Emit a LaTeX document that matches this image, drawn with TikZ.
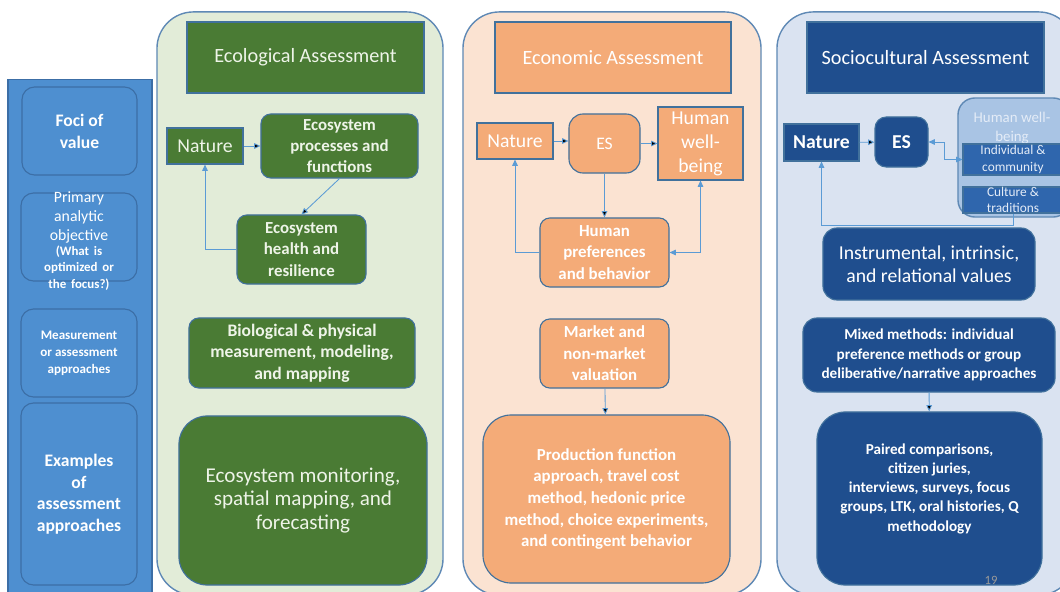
\documentclass[tikz,border=0pt]{standalone}
\usepackage{fontspec}
\setmainfont{Carlito}
\usetikzlibrary{arrows.meta}
\definecolor{azulizq}{HTML}{4E8FD0}
\definecolor{azulborde}{HTML}{3C6EA6}
\definecolor{borde}{HTML}{41719C}
\definecolor{marco}{HTML}{5F89B5}
\definecolor{verde}{HTML}{4A7B34}
\definecolor{verdeclaro}{HTML}{E2ECD8}
\definecolor{textoverde}{HTML}{EEF4E8}
\definecolor{naranja}{HTML}{F4AB78}
\definecolor{naranjaclaro}{HTML}{FBE3D2}
\definecolor{azuloscuro}{HTML}{1F4E8E}
\definecolor{azulclaro}{HTML}{DAE3F1}
\definecolor{azulmedio}{HTML}{2F66AD}
\definecolor{azulbien}{HTML}{A9C4E4}
\definecolor{textobien}{HTML}{E4ECF7}
\definecolor{azulflecha}{HTML}{5B9BD5}

\begin{document}
\begin{tikzpicture}[x=0.025cm,y=-0.025cm,>={Triangle[length=4.5pt,width=4pt]}]
\tikzset{caja/.style={draw=borde,line width=0.8pt,align=center,inner sep=1pt},
redon/.style={caja,rounded corners=7pt},
grande/.style={caja,rounded corners=20pt},
panel/.style={draw=marco,line width=1pt,rounded corners=26pt},
lcaja/.style={draw=azulborde,line width=0.8pt,rounded corners=9pt,text=white,align=center},
tit/.style={font=\fontsize{14.4}{17}\selectfont},
cuerpo/.style={font=\fontsize{12}{15.2}\selectfont\bfseries},
flecha/.style={draw=azulflecha,line width=0.6pt}}

\useasboundingbox (0,0) rectangle (1060,592);
\clip (0,0) rectangle (1060,592);

% Columna izquierda
\node (1) at (80,340) [draw=azulborde,fill=azulizq,line width=0.8pt,minimum width=3.6cm,minimum height=13cm] {};
\node (2) at (79.5,131) [lcaja,minimum width=2.875cm,minimum height=2.2cm,font=\fontsize{12.5}{15.5}\selectfont\bfseries] {Foci of\\value};
\node (3) at (79,237) [lcaja,minimum width=2.9cm,minimum height=2.2cm,label={[text=white,align=center,text width=2.9cm,yshift=-3pt]center:{\fontsize{11.2}{13.3}\selectfont Primary\\analytic\\objective\endgraf\fontsize{9.2}{11.2}\selectfont\bfseries (What is\\optimized or\\the focus?)}}] {};
\node (4) at (79,353) [lcaja,minimum width=2.9cm,minimum height=2.2cm,font=\fontsize{9.3}{12}\selectfont\bfseries] {Measurement\\or assessment\\approaches};
\node (5) at (79,494) [lcaja,minimum width=2.9cm,minimum height=4.55cm,font=\fontsize{12.5}{15.3}\selectfont\bfseries] {Examples\\of\\assessment\\approaches};

% Evaluacion ecologica
\node (6) at (300,303.5) [panel,fill=verdeclaro,minimum width=7.15cm,minimum height=14.575cm] {};
\node (7) at (305.5,57.5) [caja,fill=verde,text=textoverde,tit,minimum width=5.925cm,minimum height=1.775cm] {Ecological Assessment};
\node (8) at (205,146) [caja,fill=verde,text=textoverde,font=\fontsize{14}{17}\selectfont,minimum width=1.9cm,minimum height=0.9cm] {Nature};
\node (9) at (339.5,146) [redon,fill=verde,text=textoverde,cuerpo,minimum width=3.925cm,minimum height=1.6cm] {Ecosystem\\processes and\\functions};
\node (10) at (301.5,249.5) [redon,fill=verde,text=textoverde,cuerpo,minimum width=3.225cm,minimum height=1.725cm] {Ecosystem\\health and\\resilience};
\node (11) at (302,353) [redon,fill=verde,text=textoverde,font=\fontsize{12.5}{15.4}\selectfont\bfseries,minimum width=5.65cm,minimum height=1.75cm] {Biological \& physical\\measurement, modeling,\\and mapping};
\node (12) at (303,500.5) [grande,fill=verde,text=textoverde,font=\fontsize{15}{16.6}\selectfont,minimum width=6.2cm,minimum height=4.225cm] {Ecosystem monitoring,\\spatial mapping, and\\forecasting};

% Evaluacion economica
\node (13) at (612,303.5) [panel,fill=naranjaclaro,minimum width=7.45cm,minimum height=14.575cm] {};
\node (14) at (613,57.5) [caja,fill=naranja,text=white,tit,minimum width=5.9cm,minimum height=1.775cm] {Economic Assessment};
\node (15) at (515,141) [caja,fill=naranja,text=white,font=\fontsize{14}{17}\selectfont,minimum width=1.9cm,minimum height=0.9cm] {Nature};
\node (16) at (604.5,143.5) [caja,rounded corners=10pt,fill=naranja,text=white,font=\fontsize{12.5}{15}\selectfont,minimum width=1.775cm,minimum height=1.475cm] {ES};
\node (17) at (700.5,143.5) [caja,fill=naranja,text=white,font=\fontsize{14}{17}\selectfont,minimum width=2.125cm,minimum height=1.825cm] {Human\\well-\\being};
\node (18) at (604.5,252.5) [redon,fill=naranja,text=white,cuerpo,minimum width=3.225cm,minimum height=1.725cm] {Human\\preferences\\and behavior};
\node (19) at (604.5,353.5) [redon,fill=naranja,text=white,cuerpo,minimum width=3.225cm,minimum height=1.725cm] {Market and\\non-market\\valuation};
\node (20) at (606.5,499) [grande,fill=naranja,text=white,font=\fontsize{12}{15.4}\selectfont\bfseries,minimum width=6.175cm,minimum height=4.2cm] {Production function\\approach, travel cost\\method, hedonic price\\method, choice experiments,\\and contingent behavior};

% Evaluacion sociocultural
\node (21) at (926,303.5) [panel,fill=azulclaro,minimum width=7.45cm,minimum height=14.575cm] {};
\node (22) at (925.5,57.5) [caja,fill=azuloscuro,text=white,tit,minimum width=5.925cm,minimum height=1.775cm] {Sociocultural Assessment};
\node (23) at (821.5,142.5) [caja,fill=azuloscuro,text=white,font=\fontsize{14}{17}\selectfont\bfseries,minimum width=1.875cm,minimum height=0.925cm] {Nature};
\node (24) at (901.5,142) [caja,rounded corners=8pt,fill=azuloscuro,text=white,font=\fontsize{14}{17}\selectfont\bfseries,minimum width=1.325cm,minimum height=1.25cm] {ES};
\node (25) at (1014,157.5) [draw=marco,line width=1pt,rounded corners=12pt,fill=azulbien,minimum width=2.8cm,minimum height=2.975cm] {};
\node (26) at (1012,128) [text=textobien,align=center,inner sep=0pt,font=\fontsize{10.6}{13}\selectfont] {Human well-\\being};
\node (27) at (1013,159.5) [caja,fill=azulmedio,text=textobien,inner sep=0pt,font=\fontsize{9.5}{11.8}\selectfont,minimum width=2.5cm,minimum height=0.775cm] {Individual \&\\community};
\node (28) at (1013,200) [caja,fill=azulmedio,minimum width=2.5cm,minimum height=0.65cm,label={[text=textobien,align=center,inner sep=0pt,font=\fontsize{9.5}{11.8}\selectfont]center:{Culture \&\\traditions}}] {};
\node (29) at (929,264) [redon,rounded corners=10pt,fill=azuloscuro,text=white,font=\fontsize{14}{16.6}\selectfont,minimum width=5.3cm,minimum height=1.8cm] {Instrumental, intrinsic,\\and relational values};
\node (30) at (929,355) [redon,rounded corners=10pt,fill=azuloscuro,text=white,font=\fontsize{10.8}{14}\selectfont\bfseries,minimum width=6.3cm,minimum height=1.85cm] {Mixed methods: individual\\preference methods or group\\deliberative/narrative approaches};
\node (31) at (929.5,498.5) [grande,fill=azuloscuro,text=white,font=\fontsize{10.8}{13.6}\selectfont\bfseries,minimum width=5.625cm,minimum height=4.325cm] {Paired comparisons,\\citizen juries,\\interviews, surveys, focus\\groups, LTK, oral histories, Q\\methodology\\[2pt]};
\node (32) at (991,580) [text=black!40,font=\fontsize{9}{11}\selectfont] {19};

% Flechas
\path[flecha]
(8) edge[->] (9)
(9.south) edge[->] (10.north)
(15) edge[->] (15 -| 16.west)
(16) edge[->] (17)
(16) edge[->] (18)
(19) edge[->] (20)
(23) edge[->] (24)
(30) edge[->] (31);
\draw[flecha,->] (10.west) -| (8.south);
\draw[flecha,->] (18.west) -| (15.south);
\draw[flecha,<->] (18.east) -| (17.south);
\draw[flecha,<->] (24.east) -- ++(16,0) |- (27.west);
\draw[flecha,->] (28.south) -- ++(0,12) -| (23.south);

\end{tikzpicture}
\end{document}
